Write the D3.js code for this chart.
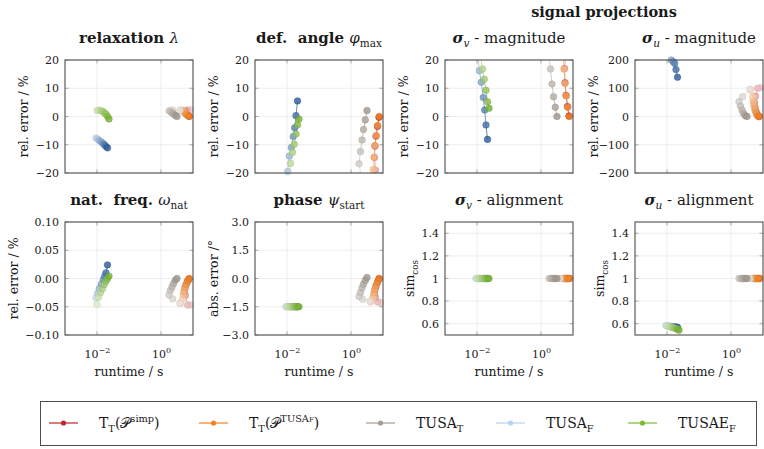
<!DOCTYPE html>
<html><head><meta charset="utf-8">
<script src="https://cdn.jsdelivr.net/npm/d3@7"></script>
<style>
body{margin:0;background:#fff;}
svg text{font-family:"DejaVu Serif",serif;fill:#1a1a1a;white-space:pre;}
</style></head><body>
<svg id="chart" width="764" height="449"></svg>
<script>
// ---------------- DATA ----------------
const seriesKeys   = ["simp","ttF","tusaT","tusaF","tusaeF"];
// runtimes in seconds (shared by all panels)
const runtimeSimp   = [8.35, 6.83, 5.83, 5.42, 5.62, 6.04, 6.73, 7.50];
const runtimeTTF    = [4.07, 4.77, 4.97, 5.23, 5.62, 6.18, 6.83, 7.66];
const runtimeTusaT  = [3.93, 2.29, 1.78, 1.98, 2.21, 2.46, 2.80, 3.16];
const runtimeTusaF  = [0.0093, 0.0105, 0.0118, 0.0136, 0.0157, 0.0174, 0.0191, 0.0213];
const runtimeTusaeF = [0.0100, 0.0113, 0.0129, 0.0149, 0.0168, 0.0191, 0.0214, 0.0237];

// relaxation lambda, rel. error %
const relaxSimp   = [2.4, 2.3, 2.1, 1.8, 1.4, 1.0, 0.5, 0.1];
const relaxTTF    = [2.3, 2.2, 2.0, 1.7, 1.3, 0.9, 0.4, 0.0];
const relaxTusaT  = [2.2, 2.3, 2.0, 1.7, 1.3, 0.9, 0.4, 0.0];
const relaxTusaF  = [-7.6, -8.0, -8.5, -9.0, -9.6, -10.1, -10.6, -11.1];
const relaxTusaeF = [2.1, 2.2, 2.1, 1.8, 1.4, 0.8, 0.0, -0.9];
// deflection angle, rel. error %
const angleSimp   = [-30, -25, -19, -14.5, -10.5, -7, -3.5, -0.3];
const angleTTF    = [-28, -23, -18.8, -14.4, -10.3, -6.7, -3.2, 0.0];
const angleTusaT  = [-30, -24, -16.7, -12.4, -8.3, -4.6, -1.2, 2.1];
const angleTusaF  = [-25, -19.5, -14, -11, -7.1, -4, 0.3, 5.5];
const angleTusaeF = [-28, -22, -16.6, -12.7, -9.8, -6.2, -3.0, -0.9];
// sigma_v magnitude, rel. error %
const sigVSimp   = [30, 25, 21, 17, 12, 7.5, 3.5, 0.2];
const sigVTTF    = [30, 25, 20.5, 16.8, 11.7, 7.3, 3.3, 0.0];
const sigVTusaT  = [30, 25, 21, 16.8, 11.5, 7.0, 3.3, 0.0];
const sigVTusaF  = [28, 22, 16.2, 12.1, 6.7, 2.3, -3.0, -8.1];
const sigVTusaeF = [32, 26, 21, 16.8, 13.2, 9.3, 5.2, 2.9];
// sigma_u magnitude, rel. error %
const sigUSimp   = [102, 100, 72, 50, 33, 18, 6, 0];
const sigUTTF    = [94, 70, 52, 37, 23, 11, 2, 0];
const sigUTusaT  = [96, 70, 52, 37, 23, 11, 3, 0];
const sigUTusaF  = [420, 340, 260, 200, 194, 188, 166, 139];
const sigUTusaeF = [600, 520, 450, 400, 350, 310, 280, 250];
// natural frequency, rel. error %
const freqSimp   = [-0.047, -0.047, -0.030, -0.024, -0.017, -0.011, -0.005, -0.001];
const freqTTF    = [-0.044, -0.036, -0.028, -0.022, -0.016, -0.010, -0.004, 0.000];
const freqTusaT  = [-0.044, -0.036, -0.029, -0.021, -0.015, -0.009, -0.003, 0.000];
const freqTusaF  = [-0.034, -0.026, -0.018, -0.010, -0.002, 0.004, 0.010, 0.024];
const freqTusaeF = [-0.046, -0.033, -0.025, -0.018, -0.011, -0.005, 0.000, 0.004];
// phase, abs. error deg
const phaseSimp   = [-1.28, -1.25, -1.0, -0.8, -0.6, -0.4, -0.2, -0.02];
const phaseTTF    = [-1.25, -1.1, -0.95, -0.75, -0.55, -0.35, -0.15, 0.0];
const phaseTusaT  = [-1.2, -1.1, -0.95, -0.75, -0.5, -0.3, -0.1, 0.05];
const phaseTusaF  = [-1.5, -1.5, -1.5, -1.5, -1.5, -1.5, -1.5, -1.5];
const phaseTusaeF = [-1.5, -1.5, -1.5, -1.5, -1.5, -1.5, -1.5, -1.5];
// sigma_v alignment, sim_cos
const alignVSimp   = [1, 1, 1, 1, 1, 1, 1, 1];
const alignVTTF    = [1, 1, 1, 1, 1, 1, 1, 1];
const alignVTusaT  = [1, 1, 1, 1, 1, 1, 1, 1];
const alignVTusaF  = [1, 1, 1, 1, 1, 1, 1, 1];
const alignVTusaeF = [1, 1, 1, 1, 1, 1, 1, 1];
// sigma_u alignment, sim_cos
const alignUSimp   = [1, 1, 1, 1, 1, 1, 1, 1];
const alignUTTF    = [1, 1, 1, 1, 1, 1, 1, 1];
const alignUTusaT  = [1, 1, 1, 1, 1, 1, 1, 1];
const alignUTusaF  = [0.585, 0.580, 0.578, 0.575, 0.573, 0.572, 0.570, 0.568];
const alignUTusaeF = [0.580, 0.575, 0.570, 0.566, 0.562, 0.556, 0.550, 0.543];

const xTicks = [1e-2, 1e0];
const yTicksPct   = [-20, -10, 0, 10, 20];
const yTicksSigU  = [-200, -100, 0, 100, 200];
const yTicksFreq  = [-0.10, -0.05, 0.00, 0.05, 0.10];
const yTicksPhase = [-3.0, -1.5, 0.0, 1.5, 3.0];
const yTicksAlign = [0.6, 0.8, 1.0, 1.2, 1.4];

// ---------------- STYLE ----------------
const runtimes = {simp:runtimeSimp, ttF:runtimeTTF, tusaT:runtimeTusaT, tusaF:runtimeTusaF, tusaeF:runtimeTusaeF};
const colors = {
  simp:  {light:"#f6cdd0", full:"#c1272d", legend:"#c1272d"},
  ttF:   {light:"#fddcbc", full:"#f08122", legend:"#f58220"},
  tusaT: {light:"#e6e2de", full:"#a0968c", legend:"#a69c93"},
  tusaF: {light:"#c9dcef", full:"#2b5c9c", legend:"#b5d3ee"},
  tusaeF:{light:"#d9ecc4", full:"#76b332", legend:"#7dbb2f"}
};
const fmtMinus = s => s.replace("-", "\u2212");
const panels = [
  {col:0,row:0, title:[{t:"relaxation "},{t:"λ",i:1,b:0}], bold:true, ylabel:[{t:"rel. error / %"}], ylx:-37,
   dom:[-20,20], ticks:yTicksPct, fmt:d=>fmtMinus(String(d)),
   data:{simp:relaxSimp, ttF:relaxTTF, tusaT:relaxTusaT, tusaF:relaxTusaF, tusaeF:relaxTusaeF}},
  {col:1,row:0, title:[{t:"def.  angle "},{t:"φ",i:1,b:0},{t:"max",sub:1,b:0}], bold:true, ylabel:[{t:"rel. error / %"}], ylx:-37,
   dom:[-20,20], ticks:yTicksPct, fmt:d=>fmtMinus(String(d)),
   data:{simp:angleSimp, ttF:angleTTF, tusaT:angleTusaT, tusaF:angleTusaF, tusaeF:angleTusaeF}},
  {col:2,row:0, title:[{t:"σ",i:1,b:1},{t:"v",sub:1,i:1,b:0},{t:" - magnitude",b:0}], bold:false, ylabel:[{t:"rel. error / %"}], ylx:-37,
   dom:[-20,20], ticks:yTicksPct, fmt:d=>fmtMinus(String(d)),
   data:{simp:sigVSimp, ttF:sigVTTF, tusaT:sigVTusaT, tusaF:sigVTusaF, tusaeF:sigVTusaeF}},
  {col:3,row:0, title:[{t:"σ",i:1,b:1},{t:"u",sub:1,i:1,b:0},{t:" - magnitude",b:0}], bold:false, ylabel:[{t:"rel. error / %"}], ylx:-37,
   dom:[-200,200], ticks:yTicksSigU, fmt:d=>fmtMinus(String(d)),
   data:{simp:sigUSimp, ttF:sigUTTF, tusaT:sigUTusaT, tusaF:sigUTusaF, tusaeF:sigUTusaeF}},
  {col:0,row:1, title:[{t:"nat.  freq. "},{t:"ω",i:1,b:0},{t:"nat",sub:1,b:0}], bold:true, ylabel:[{t:"rel. error / %"}], ylx:-47,
   dom:[-0.1,0.1], ticks:yTicksFreq, fmt:d=>fmtMinus(d3.format(".2f")(d)),
   data:{simp:freqSimp, ttF:freqTTF, tusaT:freqTusaT, tusaF:freqTusaF, tusaeF:freqTusaeF}},
  {col:1,row:1, title:[{t:"phase "},{t:"ψ",i:1,b:0},{t:"start",sub:1,b:0}], bold:true, ylabel:[{t:"abs. error /°"}], ylx:-37,
   dom:[-3,3], ticks:yTicksPhase, fmt:d=>fmtMinus(d3.format(".1f")(d)),
   data:{simp:phaseSimp, ttF:phaseTTF, tusaT:phaseTusaT, tusaF:phaseTusaF, tusaeF:phaseTusaeF}},
  {col:2,row:1, title:[{t:"σ",i:1,b:1},{t:"v",sub:1,i:1,b:0},{t:" - alignment",b:0}], bold:false, ylabel:[{t:"sim"},{t:"cos",sub:1}], ylx:-31,
   dom:[0.5,1.5], ticks:yTicksAlign, fmt:d=>d===1?"1":d3.format(".1f")(d),
   data:{simp:alignVSimp, ttF:alignVTTF, tusaT:alignVTusaT, tusaF:alignVTusaF, tusaeF:alignVTusaeF}},
  {col:3,row:1, title:[{t:"σ",i:1,b:1},{t:"u",sub:1,i:1,b:0},{t:" - alignment",b:0}], bold:false, ylabel:[{t:"sim"},{t:"cos",sub:1}], ylx:-31,
   dom:[0.5,1.5], ticks:yTicksAlign, fmt:d=>d===1?"1":d3.format(".1f")(d),
   data:{simp:alignUSimp, ttF:alignUTTF, tusaT:alignUTusaT, tusaF:alignUTusaF, tusaeF:alignUTusaeF}}
];

// ---------------- LAYOUT ----------------
const colLeft = [65, 255, 445, 635], rowTop = [60, 222], PW = 128, PH = 113;
const FONT = "DejaVu Serif, serif";
const svg = d3.select("#chart");
svg.append("rect").attr("width",764).attr("height",449).attr("fill","#fff");

function rich(g, x, y, parts, opt){
  const size = opt.size;
  const t = g.append("text").attr("x",x).attr("y",y)
    .attr("text-anchor",opt.anchor||"middle").attr("font-size",size)
    .attr("font-weight",opt.bold?"bold":"normal");
  if(opt.rotate) t.attr("transform",`rotate(-90,${x},${y})`);
  let shift = 0;
  parts.forEach(p=>{
    const target = p.sub ? size*0.28 : p.sup ? -size*0.42 : 0;
    const ts = t.append("tspan").text(p.t).attr("dy", target-shift);
    shift = target;
    if(p.sub||p.sup) ts.attr("font-size", size*(p.small||0.7));
    if(p.i) ts.attr("font-style","italic");
    if(p.b!==undefined) ts.attr("font-weight", p.b?"bold":"normal");
  });
  return t;
}

const x = d3.scaleLog().domain([1e-3, 1e1]).range([0, PW]);

panels.forEach((p, pi)=>{
  const L = colLeft[p.col], T = rowTop[p.row];
  const g = svg.append("g").attr("transform",`translate(${L},${T})`);
  const y = d3.scaleLinear().domain(p.dom).range([PH, 0]);
  const clipId = "clip"+pi;
  g.append("clipPath").attr("id",clipId).append("rect").attr("width",PW).attr("height",PH);

  // grid
  g.append("g").selectAll("line").data(p.ticks).join("line")
    .attr("x1",0).attr("x2",PW).attr("y1",d=>y(d)).attr("y2",d=>y(d))
    .attr("stroke","#e6e6e6").attr("stroke-width",0.7);
  g.append("g").selectAll("line").data(xTicks).join("line")
    .attr("y1",0).attr("y2",PH).attr("x1",d=>x(d)).attr("x2",d=>x(d))
    .attr("stroke","#e6e6e6").attr("stroke-width",0.7);
  // tick marks (inward, all sides)
  const tk = g.append("g").attr("stroke","#8a8a8a").attr("stroke-width",0.7);
  p.ticks.forEach(d=>{
    tk.append("line").attr("x1",0).attr("x2",3.5).attr("y1",y(d)).attr("y2",y(d));
    tk.append("line").attr("x1",PW-3.5).attr("x2",PW).attr("y1",y(d)).attr("y2",y(d));
  });
  xTicks.forEach(d=>{
    tk.append("line").attr("y1",PH).attr("y2",PH-3.5).attr("x1",x(d)).attr("x2",x(d));
    tk.append("line").attr("y1",0).attr("y2",3.5).attr("x1",x(d)).attr("x2",x(d));
  });

  // data
  const plot = g.append("g");
  const lines = plot.append("g").attr("clip-path",`url(#${clipId})`);
  const marks = plot.append("g");
  seriesKeys.forEach(k=>{
    const vals = p.data[k], rt = runtimes[k], c = colors[k];
    const n = vals.length;
    const col = i => d3.interpolateRgb(c.light, c.full)(i/(n-1));
    const pts = vals.map((v,i)=>({t:rt[i], v, i}));
    for(let i=1;i<n;i++){
      lines.append("line")
        .attr("x1",x(pts[i-1].t)).attr("y1",y(pts[i-1].v))
        .attr("x2",x(pts[i].t)).attr("y2",y(pts[i].v))
        .attr("stroke",col(i)).attr("stroke-width",0.8).attr("stroke-opacity",0.9);
    }
    const span = p.dom[1]-p.dom[0];
    marks.selectAll(null).data(pts.filter(d=>d.v>=p.dom[0]-span*0.002 && d.v<=p.dom[1]+span*0.002)).join("circle")
      .attr("cx",d=>x(d.t)).attr("cy",d=>y(d.v)).attr("r",3.3)
      .attr("fill",d=>col(d.i)).attr("fill-opacity",0.8)
      .attr("stroke",d=>d3.color(col(d.i)).darker(0.35)).attr("stroke-width",0.6).attr("stroke-opacity",0.8);
  });

  // frame
  g.append("rect").attr("width",PW).attr("height",PH).attr("fill","none")
    .attr("stroke","#4d4d4d").attr("stroke-width",1.1);

  // y axis labels
  const ya = g.append("g").call(d3.axisLeft(y).tickValues(p.ticks).tickFormat(p.fmt).tickSize(0).tickPadding(6));
  ya.select(".domain").remove();
  ya.selectAll("text").attr("font-size",11).attr("font-family",FONT).attr("fill","#1a1a1a");

  // x axis labels (bottom row)
  if(p.row===1){
    const xa = g.append("g").attr("transform",`translate(0,${PH})`)
      .call(d3.axisBottom(x).tickValues(xTicks).tickSize(0).tickPadding(15).tickFormat(d=>""));
    xa.select(".domain").remove();
    xa.selectAll(".tick text").each(function(d){
      const e = Math.round(Math.log10(d));
      const t = d3.select(this).attr("font-size",11).attr("font-family",FONT).attr("fill","#1a1a1a");
      t.append("tspan").text("10");
      t.append("tspan").text(fmtMinus(String(e))).attr("dy",-5).attr("font-size",8);
    });
    rich(g, PW/2, PH+41, [{t:"runtime / s"}], {size:12.5});
  }

  // titles
  rich(g, PW/2, -17, p.title, {size:15, bold:p.bold});
  // y label
  rich(g, p.ylx, PH/2, p.ylabel, {size:12.5, rotate:true});
});

// group header
rich(svg, 604, 17, [{t:"signal projections"}], {size:14.5, bold:true});

// ---------------- LEGEND ----------------
const legendLabels = {
  simp:  [{t:"T"},{t:"T",sub:1},{t:"(𝒫"},{t:"simp",sup:1},{t:")"}],
  ttF:   [{t:"T"},{t:"T",sub:1},{t:"(𝒫"},{t:"TUSA",sup:1},{t:"F",sup:1,small:0.5},{t:")"}],
  tusaT: [{t:"TUSA"},{t:"T",sub:1}],
  tusaF: [{t:"TUSA"},{t:"F",sub:1}],
  tusaeF:[{t:"TUSAE"},{t:"F",sub:1}]
};
const legendLineX = {simp:49, ttF:199, tusaT:366, tusaF:496, tusaeF:628};
const lg = svg.append("g");
lg.append("rect").attr("x",40.5).attr("y",401.5).attr("width",716).attr("height",44)
  .attr("fill","#fff").attr("stroke","#4d4d4d").attr("stroke-width",1);
seriesKeys.forEach(k=>{
  const x0 = legendLineX[k], yc = 423;
  lg.append("line").attr("x1",x0).attr("x2",x0+29).attr("y1",yc).attr("y2",yc)
    .attr("stroke",colors[k].legend).attr("stroke-width",1.2);
  lg.append("circle").attr("cx",x0+14.5).attr("cy",yc).attr("r",2.6).attr("fill",colors[k].legend);
  rich(lg, x0+50, yc+5, legendLabels[k], {size:14, anchor:"start"});
});
</script>
</body></html>
